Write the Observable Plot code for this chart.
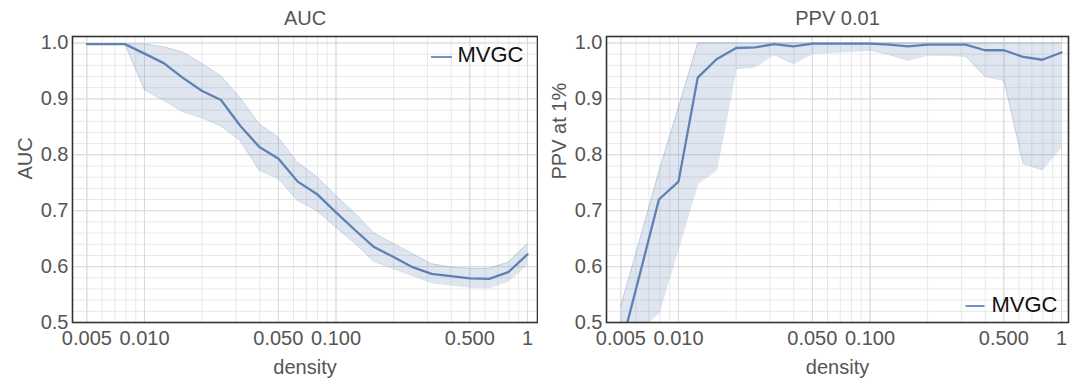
<!DOCTYPE html>
<html><head><meta charset="utf-8">
<script src="https://cdn.jsdelivr.net/npm/d3@7"></script>
<script src="https://cdn.jsdelivr.net/npm/@observablehq/plot@0.6"></script>
<style>
body{margin:0;background:#fff;font-family:"Liberation Sans",Arial,sans-serif;}
#wrap{position:relative;width:1077px;height:378px;display:flex;}
#wrap > div{flex:none;}
#legend{position:absolute;left:0;top:0;pointer-events:none;}
</style></head><body>
<div id="wrap"><div id="left"></div><div id="right"></div>
<svg id="legend" width="1077" height="378"></svg></div>
<script>
// density values (log-spaced samples)
const density = [0.005, 0.0063, 0.0079, 0.01, 0.0126, 0.0158, 0.02, 0.0251, 0.0316, 0.0398, 0.0501, 0.0631, 0.0794, 0.1, 0.126, 0.158, 0.2, 0.251, 0.316, 0.398, 0.501, 0.631, 0.794, 1];

// AUC panel
const aucMean  = [0.998, 0.998, 0.998, 0.981, 0.964, 0.938, 0.914, 0.898, 0.852, 0.814, 0.793, 0.752, 0.730, 0.697, 0.665, 0.635, 0.617, 0.599, 0.587, 0.583, 0.579, 0.578, 0.590, 0.622];
const aucUpper = [0.998, 0.998, 0.998, 0.998, 0.993, 0.984, 0.963, 0.941, 0.902, 0.855, 0.831, 0.786, 0.761, 0.727, 0.695, 0.660, 0.641, 0.623, 0.605, 0.599, 0.597, 0.597, 0.608, 0.641];
const aucLower = [0.998, 0.998, 0.998, 0.916, 0.897, 0.877, 0.866, 0.851, 0.825, 0.772, 0.757, 0.718, 0.700, 0.670, 0.641, 0.609, 0.596, 0.584, 0.571, 0.567, 0.563, 0.562, 0.574, 0.603];

// PPV 0.01 panel
const ppvMean  = [0.455, 0.588, 0.720, 0.752, 0.938, 0.971, 0.991, 0.992, 0.998, 0.994, 0.999, 0.999, 0.999, 0.999, 0.997, 0.994, 0.997, 0.997, 0.997, 0.987, 0.987, 0.975, 0.970, 0.983];
const ppvUpper = [0.530, 0.650, 0.770, 0.885, 1.000, 1.000, 1.000, 1.000, 1.000, 1.000, 1.000, 1.000, 1.000, 1.000, 1.000, 1.000, 1.000, 1.000, 1.000, 1.000, 1.000, 1.000, 1.000, 1.000];
const ppvLower = [0.420, 0.487, 0.517, 0.633, 0.748, 0.772, 0.954, 0.957, 0.979, 0.963, 0.981, 0.983, 0.985, 0.987, 0.979, 0.969, 0.978, 0.978, 0.976, 0.940, 0.933, 0.784, 0.773, 0.814];

// ticks and grid
const xTickValues = [0.005, 0.01, 0.05, 0.1, 0.5, 1];
const xTickLabels = ["0.005", "0.010", "0.050", "0.100", "0.500", "1"];
const yTickValues = [0.5, 0.6, 0.7, 0.8, 0.9, 1.0];
const yTickLabels = ["0.5", "0.6", "0.7", "0.8", "0.9", "1.0"];
const xGridValues = [0.005, 0.006, 0.007, 0.008, 0.009, 0.01, 0.02, 0.03, 0.04, 0.05, 0.06, 0.07, 0.08, 0.09, 0.1, 0.2, 0.3, 0.4, 0.5, 0.6, 0.7, 0.8, 0.9, 1];
const yGridValues = [0.5, 0.52, 0.54, 0.56, 0.58, 0.6, 0.62, 0.64, 0.66, 0.68, 0.7, 0.72, 0.74, 0.76, 0.78, 0.8, 0.82, 0.84, 0.86, 0.88, 0.9, 0.92, 0.94, 0.96, 0.98, 1.0];
const seriesName = "MVGC";

const COLOR = "#5e81b5";
const FONT = "'Liberation Sans', Arial, sans-serif";

function panel({mean, lower, upper, title, ylabel, width, marginLeft, marginRight, xDomain}) {
  const rows = density.map((d, i) => ({d, m: mean[i], lo: lower[i], hi: upper[i]}));
  const xTicks = xTickValues.map((v, i) => ({v, label: xTickLabels[i]}));
  return Plot.plot({
    width, height: 378,
    marginLeft, marginRight, marginTop: 36, marginBottom: 56,
    style: {fontFamily: FONT, background: "white", overflow: "visible"},
    x: {type: "log", domain: xDomain, axis: null},
    y: {domain: [0.5, 1.0116]},
    marks: [
      Plot.ruleX(xGridValues, {stroke: "#e8e8e8", strokeWidth: 1}),
      Plot.ruleY(yGridValues, {stroke: "#e8e8e8", strokeWidth: 1}),
      Plot.ruleX(xTickValues, {stroke: "#dadada", strokeWidth: 1}),
      Plot.ruleY(yTickValues, {stroke: "#dadada", strokeWidth: 1}),
      Plot.areaY(rows, {x: "d", y1: "lo", y2: "hi", fill: COLOR, fillOpacity: 0.2, clip: true}),
      Plot.line(rows, {x: "d", y: "lo", stroke: COLOR, strokeOpacity: 0.3, strokeWidth: 0.8, clip: true}),
      Plot.line(rows, {x: "d", y: "hi", stroke: COLOR, strokeOpacity: 0.3, strokeWidth: 0.8, clip: true}),
      Plot.line(rows, {x: "d", y: "m", stroke: COLOR, strokeWidth: 2.3, clip: true}),
      Plot.frame({stroke: "#333", strokeWidth: 1.6}),
      Plot.text(xTicks, {x: "v", text: "label", frameAnchor: "bottom", dy: 16, lineAnchor: "middle", fontSize: 20, fill: "#555"}),
      Plot.axisY({ticks: yTickValues, tickFormat: d => yTickLabels[yTickValues.indexOf(d)], tickSize: 0, tickPadding: 4, fontSize: 20, fill: "#555", label: null}),
      Plot.text([title], {text: d => d, frameAnchor: "top", dy: -18, lineAnchor: "middle", fontSize: 20, fill: "#555"}),
      Plot.text(["density"], {text: d => d, frameAnchor: "bottom", dy: 45, lineAnchor: "middle", fontSize: 20, fill: "#555"}),
      Plot.text([ylabel], {text: d => d, frameAnchor: "left", dx: -47, rotate: -90, lineAnchor: "middle", fontSize: 20, fill: "#555"})
    ]
  });
}

document.getElementById("left").appendChild(panel({
  mean: aucMean, lower: aucLower, upper: aucUpper, title: "AUC", ylabel: "AUC",
  width: 538, marginLeft: 72, marginRight: 1, xDomain: [0.004207, 1.128]
}));
document.getElementById("right").appendChild(panel({
  mean: ppvMean, lower: ppvLower, upper: ppvUpper, title: "PPV 0.01", ylabel: "PPV at 1%",
  width: 539, marginLeft: 68, marginRight: 9, xDomain: [0.004207, 1.088]
}));

// legends
const lg = d3.select("#legend");
function legend(x1, x2, ly, tx, ty) {
  lg.append("line").attr("x1", x1).attr("x2", x2).attr("y1", ly).attr("y2", ly)
    .attr("stroke", COLOR).attr("stroke-width", 1.7);
  lg.append("text").attr("x", tx).attr("y", ty).text(seriesName)
    .attr("font-family", FONT).attr("font-size", 22).attr("fill", "#111");
}
legend(431, 452, 57, 457.5, 61.7);
legend(965.5, 984.5, 306, 991.4, 311.8);
</script>
</body></html>
